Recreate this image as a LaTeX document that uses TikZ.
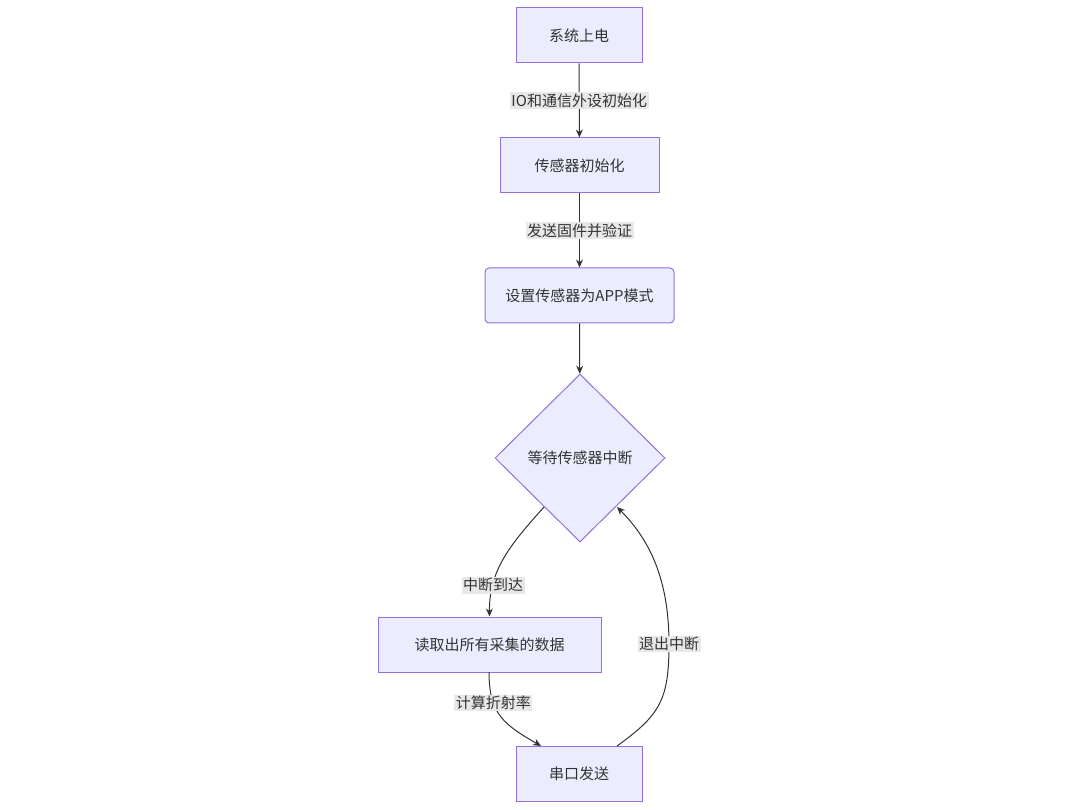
\documentclass[tikz,border=0pt]{standalone}
\usepackage{fontspec}
\setmainfont{Noto Sans CJK SC}
\usetikzlibrary{shapes.geometric,arrows.meta}
\definecolor{nf}{HTML}{ECECFF}
\definecolor{ns}{HTML}{9370DB}
\definecolor{tx}{HTML}{333333}
\definecolor{lb}{HTML}{E8E8E8}
\begin{document}
\begin{tikzpicture}[x=1pt,y=-1pt,
 box/.style={draw=ns,fill=nf,line width=1pt,minimum height=55pt,text=tx,font=\fontsize{15}{18}\selectfont,inner sep=0pt},
 dia/.style={draw=ns,fill=nf,line width=1pt,diamond,minimum width=170pt,minimum height=168pt,aspect=1,text=tx,font=\fontsize{15}{18}\selectfont,inner sep=0pt},
 lab/.style={fill=lb,text=tx,font=\fontsize{15}{18}\selectfont,inner sep=1.5pt},
 ed/.style={draw=tx,line width=1pt,-{Stealth[length=8pt,width=7pt]}}]
\useasboundingbox (0,0) rectangle (1080,810);
\node[box,minimum width=126pt] (a) at (579,35.5) {系统上电};
\node[box,minimum width=159pt] (b) at (579.5,165.5) {传感器初始化};
\node[box,minimum width=189pt,rounded corners=4pt] (c) at (579.5,295.5) {设置传感器为APP模式};
\node[dia] (d) at (580,458) {等待传感器中断};
\node[box,minimum width=223pt] (e) at (489.5,644.5) {读取出所有采集的数据};
\node[box,minimum width=126pt] (f) at (579,774) {串口发送};
\draw[ed] (a) -- node[lab]{IO和通信外设初始化} (b);
\draw[ed] (b) -- node[lab]{发送固件并验证} (c);
\draw[ed] (c) -- (d);
\coordinate (d1) at (544,507);
\coordinate (d2) at (617,507);
\draw[ed] (d1) .. controls (510,545) and (489,570) .. node[lab,pos=0.75]{中断到达} (e.north);
\coordinate (e1) at (489,672);
\coordinate (f1) at (541,746);
\draw[ed] (e1) .. controls (489,715) and (505,725) .. node[lab,pos=0.3]{计算折射率} (f1);
\coordinate (f2) at (617,746);
\draw[ed] (f2) .. controls (660,715) and (669,700) .. (669,644) node[lab]{退出中断} .. controls (669,580) and (650,540) .. (d2);
\end{tikzpicture}
\end{document}
